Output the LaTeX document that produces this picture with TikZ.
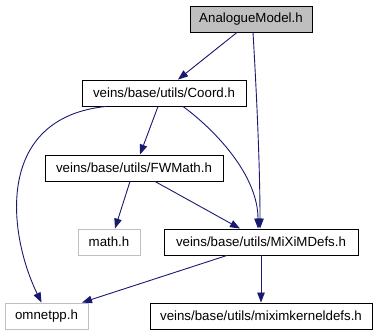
\documentclass[tikz,border=0pt]{standalone}
\usepackage{fontspec}
\setmainfont{Liberation Sans}
\usetikzlibrary{arrows.meta}
\definecolor{edgeblue}{HTML}{191970}
\definecolor{lightgrey}{HTML}{BFBFBF}
\begin{document}
\begin{tikzpicture}[x=1pt,y=-1pt,
  file/.style={draw=black,line width=0.9pt,fill=white,inner sep=0pt,
    minimum height=26pt,font=\fontsize{13.3}{16}\selectfont},
  extfile/.style={file,draw=lightgrey},
  mainfile/.style={file,fill=lightgrey},
  dep/.style={draw=edgeblue,line width=0.9pt,
    -{Triangle[length=10pt,width=7.5pt,fill=edgeblue]}}]
\useasboundingbox (0,0) rectangle (377,336);

% include files
\node[mainfile,minimum width=122pt] (am)    at (251,19)   {AnalogueModel.h};
\node[file,minimum width=164pt]     (coord) at (164,93)   {veins/base/utils/Coord.h};
\node[file,minimum width=178pt]     (fw)    at (134,168)  {veins/base/utils/FWMath.h};
\node[extfile,minimum width=62pt]   (math)  at (109,242)  {math.h};
\node[file,minimum width=194pt]     (mix)   at (261,242)  {veins/base/utils/MiXiMDefs.h};
\node[extfile,minimum width=83pt]   (omn)   at (46.5,316) {omnetpp.h};
\node[file,minimum width=222pt]     (mk)    at (261,316)  {veins/base/utils/miximkerneldefs.h};

% include relations
\draw[dep] ([xshift=-14pt]am.south) -- ([xshift=14pt]coord.north);
\draw[dep] ([xshift=2pt]am.south) .. controls (257,100) and (260,170) .. ([xshift=-1pt]mix.north);
\draw[dep] ([xshift=-58pt]coord.south) .. controls (-6,118) and (8,234) .. ([xshift=-5pt]omn.north);
\draw[dep] ([xshift=-6pt]coord.south) -- ([xshift=6pt]fw.north);
\draw[dep] ([xshift=19pt]coord.south) .. controls (215,130) and (258,175) .. ([xshift=-3pt]mix.north);
\draw[dep] ([xshift=-4pt]fw.south) -- ([xshift=6pt]math.north);
\draw[dep] ([xshift=21pt]fw.south) -- ([xshift=-21pt]mix.north);
\draw[dep] ([xshift=-34pt]mix.south) -- ([xshift=35.5pt]omn.north);
\draw[dep] (mix.south) -- (mk.north);
\end{tikzpicture}
\end{document}
